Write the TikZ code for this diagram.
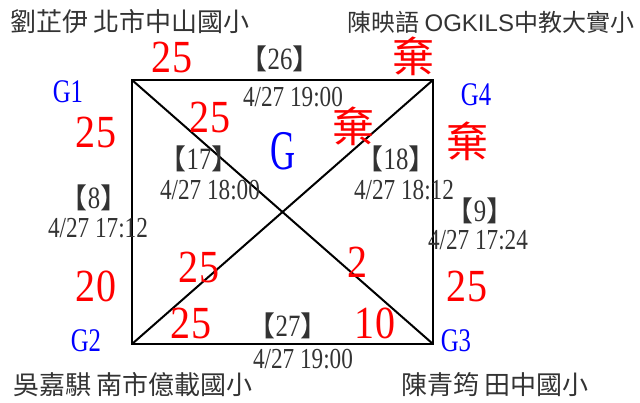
\documentclass[tikz,border=0pt]{standalone}
\usepackage{fontspec}
\setmainfont{Liberation Serif}
\newfontfamily\cjk{Noto Sans CJK TC}
\newfontfamily\lsans{Liberation Sans}
\newfontfamily\numf[FakeStretch=0.87]{Liberation Serif}
\newfontfamily\datef[FakeStretch=0.8]{Liberation Serif}
\newfontfamily\gf[FakeStretch=0.75]{Liberation Serif}
\newfontfamily\bigGf[FakeStretch=0.62]{Liberation Serif}
\definecolor{txtgray}{HTML}{333333}
\newcommand\brk[1]{{\cjk\fontsize{28}{28}\selectfont 【}{\datef\fontsize{31}{31}\selectfont #1}{\cjk\fontsize{28}{28}\selectfont 】}}
\begin{document}
\begin{tikzpicture}[x=1pt,y=-1pt,
  every node/.style={inner sep=0pt,outer sep=0pt,anchor=base},
  player/.style={font=\cjk\fontsize{26}{26}\selectfont,text=txtgray},
  score/.style={font=\numf\fontsize{46}{46}\selectfont,text=red},
  quit/.style={font=\cjk\fontsize{42}{42}\selectfont,text=red},
  dateinfo/.style={font=\datef\fontsize{29}{29}\selectfont,text=txtgray},
  game/.style={text=txtgray},
  glabel/.style={font=\gf\fontsize{33}{33}\selectfont,text=blue},
  edge/.style={line width=2pt,black}]
\useasboundingbox (0,0) rectangle (640,403);
% corners
\coordinate (c1) at (132,80);
\coordinate (c4) at (433,80);
\coordinate (c2) at (132,344);
\coordinate (c3) at (433,344);
\draw[edge] (c1) -- (c4) -- (c3) -- (c2) -- cycle;
\draw[edge] (c1) -- (c3);
\draw[edge] (c2) -- (c4);
% players
\node[player] (p1) at (130,32) {劉芷伊 北市中山國小};
\node[player,font=\cjk\fontsize{24}{24}\selectfont,anchor=base east] (p4) at (634,32) {陳映語 {\lsans OGKILS}中教大實小};
\node[player] (p2) at (133,394) {吳嘉騏 南市億載國小};
\node[player] (p3) at (495,394) {陳青筠 田中國小};
% group labels
\node[glabel] (g1) at (68,103) {G1};
\node[glabel] (g2) at (86,352) {G2};
\node[glabel] (g3) at (456,352) {G3};
\node[glabel] (g4) at (476,106) {G4};
\node[font=\bigGf\fontsize{56}{56}\selectfont,text=blue] (gg) at (283,170) {G};
% top edge
\node[score] (s1) at (172,73) {25};
\node[game] (m26) at (280,70) {\brk{26}};
\node[dateinfo] (d26) at (293,107) {4/27 19:00};
\node[quit] (q1) at (413,73) {棄};
% diagonals
\node[score] (s2) at (210,133) {25};
\node[quit] (q2) at (353,143) {棄};
\node[game] (m17) at (199,170) {\brk{17}};
\node[dateinfo] (d17) at (210,200) {4/27 18:00};
\node[game] (m18) at (396,170) {\brk{18}};
\node[dateinfo] (d18) at (404,200) {4/27 18:12};
\node[score] (s3) at (199,283) {25};
\node[score] (s4) at (358,278) {2};
% left edge
\node[score] (s5) at (96,148) {25};
\node[game] (m8) at (94,209) {\brk{8}};
\node[dateinfo] (d8) at (98,238) {4/27 17:12};
\node[score] (s6) at (96,302) {20};
% right edge
\node[quit] (q3) at (467,158) {棄};
\node[game] (m9) at (480,222) {\brk{9}};
\node[dateinfo] (d9) at (478,250) {4/27 17:24};
\node[score] (s7) at (467,302) {25};
% bottom edge
\node[score] (s8) at (191,338) {25};
\node[game] (m27) at (288,337) {\brk{27}};
\node[dateinfo] (d27) at (303,368) {4/27 19:00};
\node[score] (s9) at (375,338) {10};
\end{tikzpicture}
\end{document}
